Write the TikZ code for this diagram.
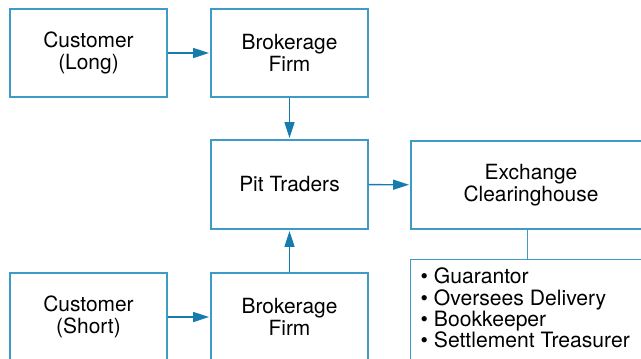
\documentclass[tikz,border=0pt]{standalone}
\usepackage{fontspec}
\setmainfont{TeX Gyre Heros}
\usetikzlibrary{arrows.meta}
\definecolor{boxcol}{RGB}{62,155,200}
\definecolor{arrcol}{RGB}{22,124,174}
\tikzset{
  box/.style={draw=boxcol, line width=1.4bp, minimum width=157bp, minimum height=88bp,
    inner sep=0pt, align=center, font=\fontsize{21}{21.5}\selectfont},
  bultxt/.style={inner sep=0pt, align=left, font=\fontsize{21.2}{21.2}\selectfont},
  conn/.style={draw=arrcol, line width=1.4bp, -{Triangle[length=16bp,width=10bp]}, shorten >=1.2bp},
  plain/.style={draw=boxcol, line width=1.4bp}
}
\begin{document}
\begin{tikzpicture}[x=1bp,y=-1bp]
\useasboundingbox (0,0) rectangle (641,358);
\clip (0,0) rectangle (641,358);
\node[box] (cl) at (88.5,53) {Customer\\(Long)};
\node[box] (bt) at (289.5,53) {Brokerage\\Firm};
\node[box, minimum height=89bp] (pit) at (289.5,184.5) {Pit Traders};
\node[box, minimum width=240bp] (ex) at (531,185) {Exchange\\Clearinghouse};
\node[box, minimum width=238bp, minimum height=110bp, anchor=north west] (bul) at (409.7,259) {};
\node[bultxt, anchor=north west] (bt1) at (420.5,268)
  {\textbullet\ Guarantor\\\textbullet\ Oversees Delivery\\\textbullet\ Bookkeeper\\\textbullet\ Settlement Treasurer};
\node[box] (cs) at (88.5,317) {Customer\\(Short)};
\node[box] (bb) at (289.5,317) {Brokerage\\Firm};
\draw[conn] (cl) -- (bt);
\draw[conn] (bt) -- (pit);
\draw[conn] (pit) -- (ex);
\draw[conn] (cs) -- (bb);
\draw[conn] (bb) -- (pit);
\draw[plain] (ex.south -| 527.7,0) -- (bul.north -| 527.7,0);
\end{tikzpicture}
\end{document}
